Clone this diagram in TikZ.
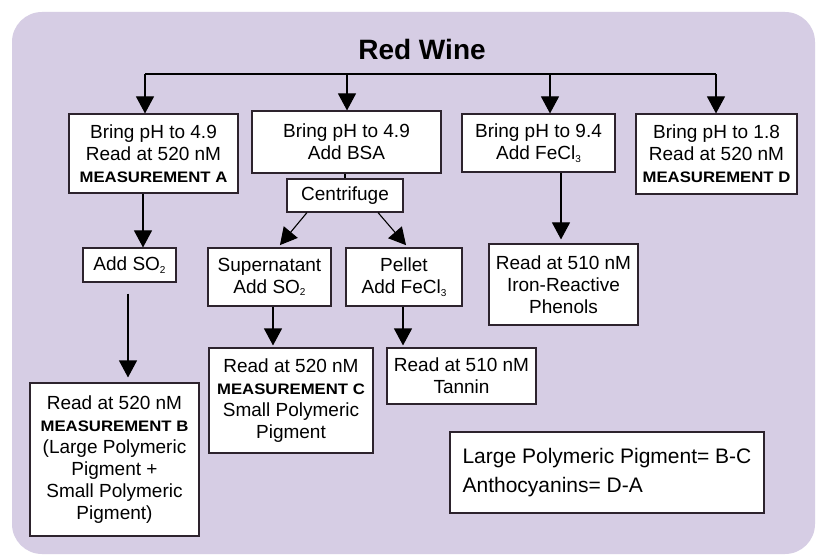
\documentclass[tikz,border=0pt]{standalone}
\usepackage{fontspec}
\setmainfont{Liberation Sans}
\newfontfamily\measfont{Liberation Sans}[FakeStretch=1.1]
\usetikzlibrary{arrows.meta}
\definecolor{wine}{RGB}{214,205,228}
\definecolor{edgec}{RGB}{45,35,45}
\def\fs{\fontsize{19}{22}\selectfont}
\def\meas#1{{\measfont\bfseries\fontsize{15.2}{22}\selectfont #1}}
\def\sub#1{\raisebox{-2.5pt}{\fontsize{10}{10}\selectfont #1}}
\tikzstyle{b}=[draw=edgec,fill=white,line width=1.1pt,align=center,inner sep=2pt,font=\fs]
\tikzstyle{arr}=[-{Triangle[length=17pt,width=18pt]},line width=1.1pt]
\tikzstyle{bus}=[line width=1.1pt]

\begin{document}
\begin{tikzpicture}[x=1pt,y=-1pt]
			\fill[white](0,0) rectangle (817,556);
			\useasboundingbox (0,0) rectangle (817,556);
			\fill[wine,rounded corners=30pt](12,12) rectangle (815,554);
			\node[font=\bfseries\fontsize{28}{30}\selectfont](t) at (422,49){Red Wine};
			\node[b,minimum width=169pt,minimum height=79pt](A) at (153.5,153.5){Bring pH to 4.9\\Read at 520 nM\\\meas{MEASUREMENT A}};
			\node[b,minimum width=189pt,minimum height=62pt](bsa) at (346.5,142){Bring pH to 4.9\\Add BSA};
			\node[b,minimum width=153pt,minimum height=58pt](fe) at (538.5,143){Bring pH to 9.4\\Add FeCl\sub{3}};
			\node[b,minimum width=161pt,minimum height=80pt](D) at (716.5,154){Bring pH to 1.8\\Read at 520 nM\\\meas{MEASUREMENT D}};
			\node[b,minimum width=116pt,minimum height=33pt](cf) at (345,195.5){Centrifuge};
			\node[b,minimum width=93pt,minimum height=34pt](so) at (129.5,265){Add SO\sub{2}};
			\node[b,minimum width=123pt,minimum height=58pt](sup) at (269.5,277){Supernatant\\Add SO\sub{2}};
			\node[b,minimum width=116pt,minimum height=58pt](pel) at (404,277){Pellet\\Add FeCl\sub{3}};
			\node[b,minimum width=149pt,minimum height=81pt](iron) at (563.5,284.5){Read at 510 nM\\Iron-Reactive\\Phenols};
			\node[b,minimum width=169pt,minimum height=153pt](B) at (114.5,459.5){Read at 520 nM\\\meas{MEASUREMENT B}\\(Large Polymeric\\Pigment +\\Small Polymeric\\Pigment)};
			\node[b,minimum width=164pt,minimum height=105pt](C) at (291,400.5){Read at 520 nM\\\meas{MEASUREMENT C}\\Small Polymeric\\Pigment};
			\node[b,minimum width=149pt,minimum height=56pt](tan) at (461.5,376){Read at 510 nM\\Tannin};
			\node[b,align=left,minimum width=314pt,minimum height=81pt,font=\fontsize{21}{29}\selectfont](sum) at (607,472.5){Large Polymeric Pigment= B-C\\Anthocyanins= D-A};
			\coordinate(b1) at (145,74);
			\coordinate(b2) at (347,74);
			\coordinate(b3) at (550,74);
			\coordinate(b4) at (716,74);
			\draw[bus](b1)--(b4);
			\draw[arr](b1)--(b1|-A.north);
			\draw[arr](b2)--(b2|-bsa.north);
			\draw[arr](b3)--(b3|-fe.north);
			\draw[arr](b4)--(b4|-D.north);
			\draw[bus](bsa.south-|cf.north)--(cf.north);
			\draw[arr]([xshift=-10.5pt]A.south)--([xshift=13.5pt]so.north);
			\draw[arr,shorten <=11pt,shorten >=5pt]([xshift=-1.5pt]so.south)--([xshift=13.5pt]B.north);
			\draw[arr,shorten >=3pt]([xshift=-38pt]cf.south)--([xshift=8.5pt]sup.north);
			\draw[arr,shorten >=3pt]([xshift=33pt]cf.south)--([xshift=4pt]pel.north);
			\draw[arr,shorten >=2pt]([xshift=3.5pt]sup.south)--([xshift=-18pt]C.north);
			\draw[arr,shorten >=2pt]([xshift=-1pt]pel.south)--([xshift=-58.5pt]tan.north);
			\draw[arr,shorten >=4pt]([xshift=22.5pt]fe.south)--([xshift=-2.5pt]iron.north);
		\end{tikzpicture}
\end{document}
